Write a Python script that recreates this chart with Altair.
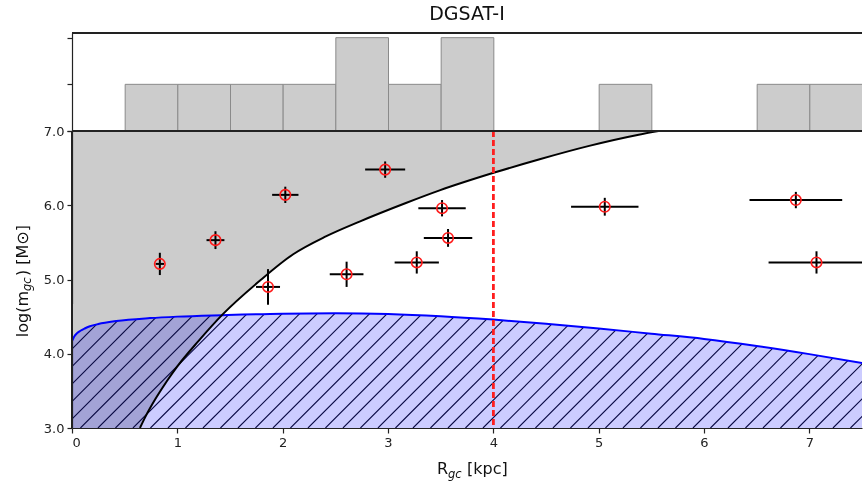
import altair as alt
import pandas as pd

FONT = "DejaVu Sans"

# ---- globular clusters: galactocentric radius [kpc], log mass, errors ----
gc_r    = [0.834, 1.362, 1.861, 2.025, 2.607, 2.973, 3.273, 3.513, 3.570, 5.058, 6.872, 7.068]
gc_logm = [5.21, 5.53, 4.90, 6.14, 5.07, 6.48, 5.23, 5.96, 5.56, 5.98, 6.07, 5.23]
gc_rerr = [0.04, 0.085, 0.114, 0.125, 0.16, 0.19, 0.21, 0.225, 0.23, 0.32, 0.44, 0.455]
gc_merr = [0.15, 0.12, 0.24, 0.11, 0.17, 0.11, 0.15, 0.11, 0.12, 0.12, 0.11, 0.15]

# ---- black curve (boundary of grey region) ----
curve_r = [0.645, 0.70, 0.80, 0.90, 1.00, 1.20, 1.43, 1.78, 2.10, 2.41, 2.73, 3.17, 3.49, 4.01, 4.44, 4.91, 5.38, 5.57]
curve_m = [3.00, 3.16, 3.41, 3.63, 3.83, 4.17, 4.53, 4.98, 5.34, 5.58, 5.78, 6.03, 6.20, 6.44, 6.62, 6.80, 6.95, 7.00]

# ---- blue curve (upper edge of hatched region) ----
lim_r = [0.0, 0.02, 0.05, 0.08, 0.12, 0.17, 0.25, 0.42, 0.74, 1.0, 1.43, 2.0, 2.5, 3.0, 3.5, 4.0, 4.5, 5.0, 5.5, 6.0, 6.5, 7.0, 7.5]
lim_m = [4.17, 4.23, 4.28, 4.31, 4.34, 4.37, 4.40, 4.44, 4.48, 4.50, 4.52, 4.54, 4.545, 4.535, 4.505, 4.46, 4.405, 4.34, 4.27, 4.20, 4.105, 3.995, 3.875]

R_CUT = 4.0
X_DOMAIN = [0, 7.5]
Y_DOMAIN = [3.0, 7.0]
HIST_DOMAIN = [0, 2.1]
W, H_MAIN, H_TOP = 790, 297, 98

gc = pd.DataFrame({"R": gc_r, "M": gc_logm, "dR": gc_rerr, "dM": gc_merr})
gc["R_lo"] = gc.R - gc.dR
gc["R_hi"] = gc.R + gc.dR
gc["M_lo"] = gc.M - gc.dM
gc["M_hi"] = gc.M + gc.dM
curve = pd.DataFrame({"r": curve_r, "m": curve_m})
lim = pd.DataFrame({"r": lim_r, "m": lim_m})

xs = alt.Scale(domain=X_DOMAIN, nice=False, zero=False)
ys = alt.Scale(domain=Y_DOMAIN, nice=False, zero=False)
X_AX = alt.Axis(values=list(range(0, 8)), format="d", title=None, labelPadding=3)
Y_AX = alt.Axis(values=[3.0, 3.5, 4.0, 4.5, 5.0, 5.5, 6.0, 6.5, 7.0], format=".1f", title=None, labelPadding=3)


def X(field):
    return alt.X(field, scale=xs, axis=X_AX)


def Y(field):
    return alt.Y(field, scale=ys, axis=Y_AX)


# ---- '//' hatch texture: 45-degree strokes every 17.5 px, later masked above the blue curve ----
px_per_r = W / (X_DOMAIN[1] - X_DOMAIN[0])
px_per_m = H_MAIN / (Y_DOMAIN[1] - Y_DOMAIN[0])
HATCH_TOP = 4.62
hatch_step = 17.5 / px_per_r
hatch_run = (HATCH_TOP - Y_DOMAIN[0]) * px_per_m / px_per_r
start = 2.24 - hatch_step * int((2.24 + hatch_run) / hatch_step + 1)
hb = []
x0 = start
while x0 < X_DOMAIN[1]:
    hb.append(x0)
    x0 += hatch_step
hatch_df = pd.DataFrame({"xb": hb})
hatch_df["xt"] = hatch_df.xb + hatch_run
hatch_df["yb"] = Y_DOMAIN[0]
hatch_df["yt"] = HATCH_TOP

hatch = alt.Chart(hatch_df).mark_rule(color="#0a0a14", strokeWidth=1.1, clip=True).encode(
    x=X("xb:Q"), y=Y("yb:Q"), x2="xt:Q", y2="yt:Q"
)
mask = alt.Chart(lim).mark_area(color="white", opacity=1, interpolate="monotone").encode(
    x=X("r:Q"), y=Y("m:Q"), y2=alt.datum(HATCH_TOP + 0.05)
)
grey = alt.Chart(curve).mark_area(orient="horizontal", color="#cccccc", opacity=1, blend="multiply",
                                  interpolate="monotone").encode(
    y=Y("m:Q"), x=X("r:Q"), x2=alt.datum(0)
)
blue_fill = alt.Chart(lim).mark_area(color="#0000ff", opacity=0.2, interpolate="monotone").encode(
    x=X("r:Q"), y=Y("m:Q"), y2=alt.datum(Y_DOMAIN[0])
)
blue_line = alt.Chart(lim).mark_line(color="#0000ff", strokeWidth=2, interpolate="monotone", clip=True).encode(
    x=X("r:Q"), y=Y("m:Q")
)
black_line = alt.Chart(curve).mark_line(color="black", strokeWidth=2, interpolate="monotone", clip=True).encode(
    x=X("r:Q"), y=Y("m:Q")
)
cut = alt.Chart(gc).mark_rule(color="#ff2020", opacity=0.85, strokeWidth=1.6, strokeDash=[6, 3]).encode(
    x=alt.datum(R_CUT)
)
xerr = alt.Chart(gc).mark_rule(color="black", strokeWidth=2, clip=True).encode(
    x=X("R_lo:Q"), x2="R_hi:Q", y=Y("M:Q")
)
yerr = alt.Chart(gc).mark_rule(color="black", strokeWidth=2, clip=True).encode(
    x=X("R:Q"), y=Y("M_lo:Q"), y2="M_hi:Q"
)
pts = alt.Chart(gc).mark_point(shape="circle", filled=False, color="#ff1a1a", opacity=1, size=110,
                               strokeWidth=1.6, clip=True).encode(
    x=X("R:Q"), y=Y("M:Q")
)
top_spine = alt.Chart(gc).mark_rule(color="#222222", strokeWidth=1.2).encode(y=alt.datum(Y_DOMAIN[1]))
left_spine = alt.Chart(gc).mark_rule(color="#222222", strokeWidth=1.2).encode(x=alt.datum(X_DOMAIN[0]))


def label(text, x, y, size=16, angle=0, align="left", style="normal"):
    return alt.Chart(pd.DataFrame({"t": [text]})).mark_text(
        text=text, font=FONT, fontSize=size, angle=angle, align=align,
        baseline="alphabetic", fontStyle=style, color="#111111"
    ).encode(x=alt.value(x), y=alt.value(y))


# x-axis title  R_gc [kpc]
xl = [
    label("R", 376, 343, align="right"),
    label("gc", 376, 347, size=11.5, style="italic"),
    label("[kpc]", 395, 343),
]
# y-axis title  log(m_gc) [M_sun]  (rotated)
yl = [
    label("log(m", -44, 160, angle=270, align="right"),
    label("gc", -41, 160, size=11.5, angle=270, style="italic"),
    label(") [M\u2299]", -44, 145, angle=270),
]

main = alt.layer(hatch, mask, grey, blue_fill, blue_line, black_line, cut, xerr, yerr, pts, top_spine,
                 left_spine, *xl, *yl).properties(width=W, height=H_MAIN)

hist = alt.Chart(gc).mark_bar(color="#cccccc", stroke="#8a8a8a", strokeWidth=1, binSpacing=0, clip=True).encode(
    x=alt.X("R:Q", bin=alt.Bin(extent=[0, 8], step=0.5), scale=alt.Scale(domain=X_DOMAIN, nice=False, zero=False), axis=None),
    y=alt.Y("count():Q", scale=alt.Scale(domain=HIST_DOMAIN, nice=False),
            axis=alt.Axis(values=[0, 1, 2], labels=False, title=None)),
)
hist_top = alt.Chart(gc).mark_rule(color="#222222", strokeWidth=1.2).encode(y=alt.datum(HIST_DOMAIN[1]))
top = alt.layer(hist, hist_top).properties(
    width=W, height=H_TOP,
    title=alt.TitleParams("DGSAT-I", font=FONT, fontSize=19, fontWeight="normal", offset=8, anchor="middle", color="#111111"),
)

chart = alt.vconcat(top, main, spacing=0, bounds="flush").resolve_scale(x="independent", y="independent").properties(
    padding={"left": 15, "top": 5, "right": 0, "bottom": 3}
).configure_view(stroke=None).configure_axis(
    domainColor="#222222", tickColor="#222222", labelColor="#222222", labelFont=FONT, labelFontSize=13,
    tickSize=5, grid=False, domainWidth=1.2, tickWidth=1.2, zindex=1
)

chart.save("out.html", embed_options={"renderer": "svg", "actions": False})
